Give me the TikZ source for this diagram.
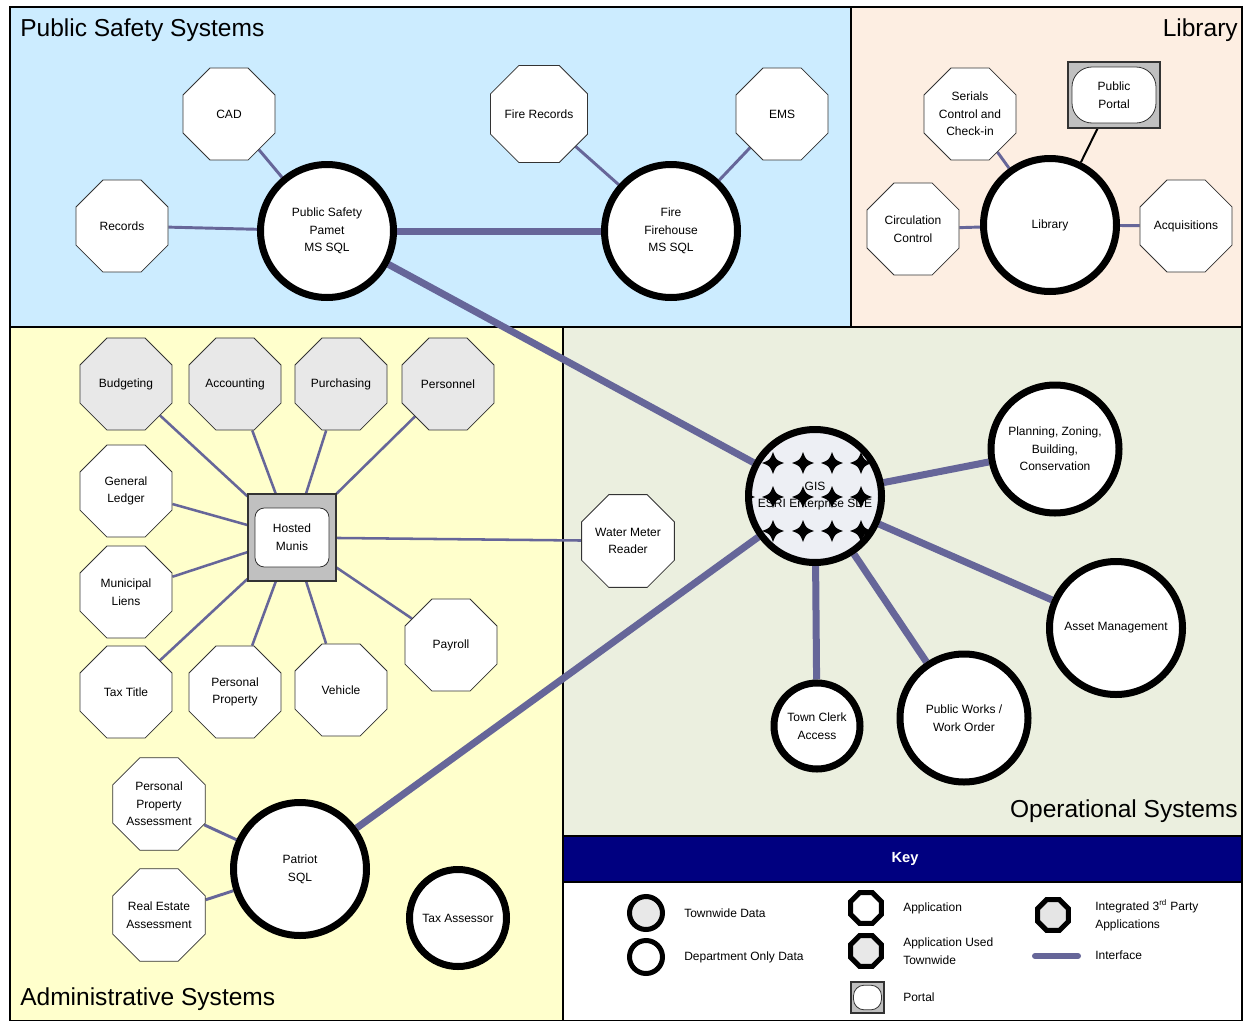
\documentclass[tikz,border=0pt]{standalone}
\usepackage{fontspec}
\setmainfont{Liberation Sans}
\usetikzlibrary{shapes.geometric}
\pgfdeclarelayer{back}
\pgfsetlayers{back,main}
\definecolor{psblue}{HTML}{CCECFF}
\definecolor{libpeach}{HTML}{FDEEE2}
\definecolor{admyellow}{HTML}{FFFFCC}
\definecolor{opgreen}{HTML}{EBEFDF}
\definecolor{keynavy}{HTML}{000080}
\definecolor{ifcol}{HTML}{666699}
\definecolor{appgray}{HTML}{E8E8E8}
\definecolor{portgray}{HTML}{C0C0C0}
\definecolor{gisfill}{HTML}{EDEFF4}
\newcommand\fsmall{\fontsize{9}{13.2}\selectfont}
\newcommand\gisstar{(11,0) .. controls (3,3) .. (0,11) .. controls (-3,3) .. (-11,0) .. controls (-3,-3) .. (0,-11) .. controls (3,-3) .. cycle}
\begin{document}
\begin{tikzpicture}[x=0.75pt,y=-0.75pt,
  oct/.style={regular polygon, regular polygon sides=8, minimum size=74.7pt, inner sep=0pt,
    draw=black!80, line width=0.6pt, fill=white, font=\fsmall, align=center},
  octg/.style={oct, fill=appgray},
  dbc/.style={circle, draw=black, line width=5.25pt, fill=white, inner sep=0pt,
    align=center, font=\fsmall, minimum size=#1*0.75pt},
  dbc/.default=133,
  ifc/.style={draw=ifcol, line width=2.2pt},
  ifm/.style={draw=ifcol, line width=1.9pt},
  ifct/.style={draw=ifcol, line width=5.25pt},
  region/.style={draw=black, line width=1.4pt},
  sectitle/.style={font=\fontsize{18.4}{20}\selectfont, inner sep=0pt},
  keylbl/.style={anchor=west, font=\fsmall, align=left, inner sep=0pt},
  koct/.style={regular polygon, regular polygon sides=8, minimum size=25pt, inner sep=0pt,
    draw=black, line width=3.75pt, fill=white},
  kcirc/.style={circle, draw=black, line width=3.75pt, minimum size=24.75pt, inner sep=0pt}
]
\useasboundingbox (0,0) rectangle (1243,1021);
\begin{pgfonlayer}{back}
  \fill[white] (0,0) rectangle (1243,1021);
  \filldraw[region, fill=psblue] (10,7) rectangle (851,327);
  \filldraw[region, fill=libpeach] (851,7) rectangle (1242,327);
  \filldraw[region, fill=admyellow] (10,327) rectangle (563,1021);
  \filldraw[region, fill=opgreen] (563,327) rectangle (1242,836);
  \filldraw[region, fill=keynavy] (563,836) rectangle (1242,882);
  \filldraw[region, fill=white] (563,882) rectangle (1242,1021);
\end{pgfonlayer}

% section titles
\node[sectitle, anchor=west] (tps) at (20,30) {Public Safety Systems};
\node[sectitle, anchor=east] (tlib) at (1238,30) {Library};
\node[sectitle, anchor=east] (tops) at (1238,811) {Operational Systems};
\node[sectitle, anchor=west] (tadm) at (20,999) {Administrative Systems};
\node[font=\fontsize{11}{13}\selectfont\bfseries, text=white] (tkey) at (905,859) {Key};

% public safety
\node[oct] (cad) at (229,114) {CAD};
\node[oct] (firerec) at (539,114) {Fire Records};
\node[oct] (ems) at (782,114) {EMS};
\node[oct] (records) at (122,226) {Records};
\node[dbc] (psp) at (327,231) {Public Safety\\Pamet\\MS SQL};
\node[dbc] (fire) at (671,231) {Fire\\Firehouse\\MS SQL};

% library
\node[oct] (serials) at (970,114) {Serials\\Control and\\Check-in};
\node[oct] (circ) at (913,229) {Circulation\\Control};
\node[oct] (acq) at (1186,226) {Acquisitions};
\node[dbc] (lib) at (1050,225) {Library};
\node[rectangle, fill=portgray, draw=black!80, line width=0.8pt, minimum width=69pt, minimum height=49.5pt] (ppo) at (1114,95) {};
\node[rectangle, rounded corners=15pt, fill=white, draw=black!80, line width=0.6pt, minimum width=63pt, minimum height=42pt, font=\fsmall, align=center] (ppi) at (1114,95) {Public\\Portal};

% administrative
\node[octg] (budget) at (126,384) {Budgeting};
\node[octg] (account) at (235,384) {Accounting};
\node[octg] (purch) at (341,384) {Purchasing};
\node[octg] (personnel) at (448,384) {Personnel};
\node[oct] (gl) at (126,491) {General\\Ledger};
\node[oct] (liens) at (126,592) {Municipal\\Liens};
\node[oct] (taxtitle) at (126,692) {Tax Title};
\node[oct] (pprop) at (235,692) {Personal\\Property};
\node[oct] (vehicle) at (341,690) {Vehicle};
\node[oct] (payroll) at (451,645) {Payroll};
\node[oct] (ppa) at (159,804) {Personal\\Property\\Assessment};
\node[oct] (rea) at (159,915) {Real Estate\\Assessment};
\node[rectangle, fill=portgray, draw=black!80, line width=0.8pt, minimum width=66pt, minimum height=65.25pt] (munis) at (292,537.5) {};
\node[rectangle, rounded corners=7pt, fill=white, draw=black!80, line width=0.6pt, minimum width=55.5pt, minimum height=44.25pt, font=\fsmall, align=center] (munisin) at (292,537.5) {Hosted\\Munis};
\node[dbc] (patriot) at (300,869) {Patriot\\SQL};
\node[dbc=97] (taxass) at (458,918) {Tax Assessor};

% operational
\node[oct] (water) at (628,541) {Water Meter\\Reader};
\node[dbc, fill=gisfill] (gis) at (815,496) {};
\begin{scope}
  \clip (815,496) circle[radius=64];
  \foreach \xx in {744,773,803,832,861,890} {
    \foreach \yy in {463,497,531} {
      \fill[black, shift={(\xx,\yy)}] \gisstar;
    }
  }
\end{scope}
\node[font=\fsmall, align=center] (gistext) at (815,496) {GIS\\ESRI Enterprise SDE};
\node[dbc=128] (plan) at (1055,449) {Planning, Zoning,\\Building,\\Conservation};
\node[dbc] (asset) at (1116,628) {Asset Management};
\node[dbc=86] (clerk) at (817,726) {Town Clerk\\Access};
\node[dbc=128] (pw) at (964,718) {Public Works /\\Work Order};

% key
\node[kcirc, fill=appgray] (k1) at (646,913) {};
\node[keylbl] (k1l) at (684,913) {Townwide Data};
\node[kcirc, fill=white] (k2) at (646,957) {};
\node[keylbl] (k2l) at (684,957) {Department Only Data};
\node[koct] (k3) at (866,908) {};
\node[keylbl] (k3l) at (903,908) {Application};
\node[koct, fill=appgray] (k4) at (866,951) {};
\node[keylbl] (k4l) at (903,951) {Application Used\\Townwide};
\node[rectangle, fill=portgray, draw=black!80, line width=0.8pt, minimum width=24.75pt, minimum height=23.25pt] (k5) at (867.5,997.5) {};
\node[rectangle, rounded corners=8pt, fill=white, draw=black!80, line width=0.6pt, minimum width=21pt, minimum height=18.5pt] (k5i) at (867.5,997.5) {};
\node[keylbl] (k5l) at (903,997) {Portal};
\node[koct, fill=black!10] (k6) at (1053,915) {};
\node[keylbl] (k6l) at (1095,915) {Integrated 3\textsuperscript{rd} Party\\Applications};
\coordinate (ki1) at (1035,956);
\coordinate (ki2) at (1078,956);
\node[keylbl] (k7l) at (1095,955) {Interface};

\begin{pgfonlayer}{back}
  \draw[ifc] (cad) -- (psp);
  \draw[ifc] (records) -- (psp);
  \draw[ifc] (firerec) -- (fire);
  \draw[ifc] (ems) -- (fire);
  \draw[ifct] (psp) -- (fire);
  \draw[ifct] (psp) -- (gis);
  \draw[ifc] (serials) -- (lib);
  \draw[ifc] (circ) -- (lib);
  \draw[ifc] (acq) -- (lib);
  \draw[black, line width=1.5pt] (ppo) -- (lib);
  \foreach \n in {budget,account,purch,personnel,gl,liens,taxtitle,pprop,vehicle,payroll,water}
    \draw[ifm] (\n) -- (munis);
  \draw[ifct] (gis) -- (plan);
  \draw[ifct] (gis) -- (asset);
  \draw[ifct] (gis) -- (clerk);
  \draw[ifct] (gis) -- (pw);
  \draw[ifct] (gis) -- (patriot);
  \draw[ifc] (ppa) -- (patriot);
  \draw[ifc] (rea) -- (patriot);
  \draw[ifcol, line width=4.5pt, line cap=round] (ki1) -- (ki2);
\end{pgfonlayer}
\end{tikzpicture}
\end{document}
